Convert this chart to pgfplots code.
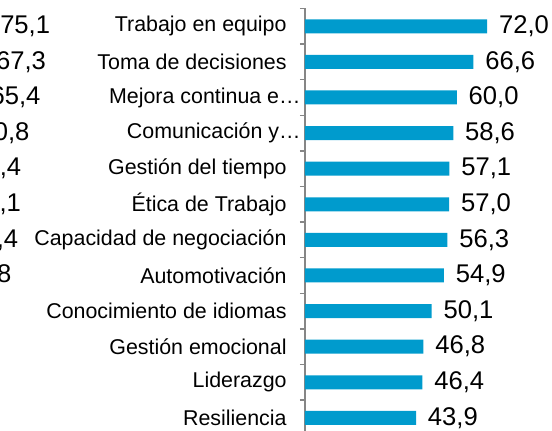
\documentclass[border=0pt]{standalone}
\usepackage{pgfplots}
\pgfplotsset{compat=1.18}
\usepackage{pgfplotstable}
\usepackage{fontspec}
\setmainfont{Liberation Sans}

\definecolor{barblue}{RGB}{0,155,205}
\definecolor{axisgray}{RGB}{134,134,134}

% main chart, row 0 = top
\pgfplotstableread[col sep=comma]{
pos,val
0,72.0
1,66.6
2,60.0
3,58.6
4,57.1
5,57.0
6,56.3
7,54.9
8,50.1
9,46.8
10,46.4
11,43.9
}\skills

% neighbouring chart cut off at the left edge: only its value labels show,
% so bar ends are placed where those labels sit
\pgfplotstableread[col sep=comma]{
pos,x,lbl
0,68.6,{75,1}
1,66.96,{67,3}
2,64.78,{65,4}
3,60.43,{60,8}
4,57.15,{58,4}
5,57.1,{58,1}
6,55.97,{56,4}
7,53.32,{53,8}
}\other

\pgfplotsset{
  rowbars/.style={
    scale only axis, width=101.2pt, height=213.6pt,
    xbar, bar width=7pt,
    xmin=0, xmax=80, ymin=-0.5, ymax=11.5, y dir=reverse,
    clip=false,
    every node near coord/.append style={font=\fontsize{12.8}{14}\selectfont, anchor=west, inner sep=0pt, xshift=5.75pt, text=black},
  }
}

\begin{document}
\begin{tikzpicture}
\path[use as bounding box, clip] (0,0) rectangle (276pt,215.5pt);

\begin{axis}[rowbars, at={(-92.6pt,211.25pt)}, anchor=north west, hide axis,
  nodes near coords, point meta=explicit symbolic]
\addplot[fill=barblue, draw=none] table[x=x, y=pos, meta=lbl] {\other};
\end{axis}

\begin{axis}[rowbars, at={(152.5pt,211.25pt)}, anchor=north west,
  axis x line=none, axis y line*=left,
  axis line style={axisgray, line width=0.75pt},
  ytick={0,...,11},
  yticklabels={Trabajo en equipo, Toma de decisiones, Mejora continua e…\kern-7pt, Comunicación y…\kern-7pt, Gestión del tiempo, Ética de Trabajo, Capacidad de negociación, Automotivación, Conocimiento de idiomas, Gestión emocional, Liderazgo, Resiliencia},
  minor ytick={-0.5,0.5,...,11.5},
  major tick length=0pt, minor tick length=2.5pt, tick align=outside,
  minor tick style={axisgray, line width=0.75pt},
  yticklabel style={font=\fontsize{10.7}{12}\selectfont, inner sep=0pt, xshift=-9pt, text=black},
  /pgf/number format/assume math mode=true,
  nodes near coords={\pgfmathprintnumber[fixed,fixed zerofill,precision=1,use comma]{\pgfplotspointmeta}},
]
\addplot[fill=barblue, draw=none] table[x=val, y=pos] {\skills};
\end{axis}
\end{tikzpicture}
\end{document}
